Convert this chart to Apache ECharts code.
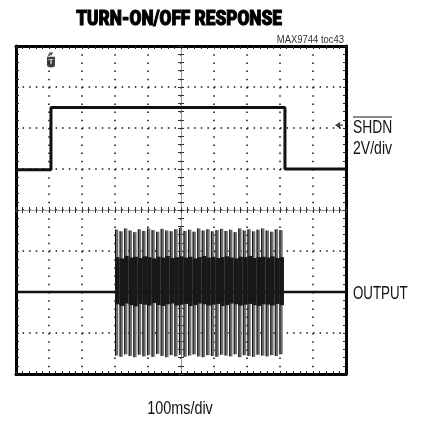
<!DOCTYPE html>
<html><head><meta charset="utf-8">
<script src="https://cdn.jsdelivr.net/npm/echarts@6/dist/echarts.min.js"></script>
<style>html,body{margin:0;padding:0;background:#fff}#c{width:421px;height:422px}</style>
</head><body><div id="c"></div>
<script>
// time in ms (100 ms/div), vertical position in screen divisions (0..8 from bottom)
const shdnTime  = [0, 106, 106, 815, 815, 1000];
const shdnLevel = [4.98, 4.98, 6.5, 6.5, 5.0, 5.0];

const outIdleTime  = [0, 1000];
const outIdleLevel = [2.0, 2.0];

const burstStart = 300, burstEnd = 812;
const burstHi = [3.52,3.48,3.55,3.50,3.46,3.53,3.49,3.55,3.51,3.47,3.54,3.50,3.48,3.53,3.56,3.49,3.52,3.47,3.55,3.50,3.53,3.48,3.51,3.54,3.49,3.52,3.46,3.55,3.50,3.53,3.48,3.52,3.55,3.50,3.47,3.53,3.51];
const burstLo = [0.45,0.42,0.48,0.44,0.41,0.47,0.43,0.46,0.42,0.49,0.44,0.41,0.46,0.43,0.47,0.42,0.45,0.48,0.43,0.41,0.46,0.44,0.42,0.47,0.45,0.43,0.48,0.41,0.46,0.44,0.42,0.47,0.45,0.43,0.46,0.44,0.48];
const innerHi = [2.85,2.82,2.88,2.84,2.86,2.83,2.87,2.85,2.82,2.86,2.84,2.88,2.83,2.85,2.87,2.84,2.86,2.82,2.85,2.88,2.84,2.86,2.83,2.85,2.87,2.84,2.82,2.86,2.85,2.88,2.83,2.85,2.86,2.84,2.87,2.83,2.85];
const innerLo = [1.70,1.66,1.72,1.68,1.65,1.71,1.69,1.67,1.73,1.68,1.66,1.70,1.72,1.67,1.69,1.71,1.66,1.68,1.72,1.70,1.67,1.69,1.71,1.66,1.68,1.72,1.70,1.67,1.69,1.71,1.68,1.66,1.70,1.69,1.67,1.71,1.68];

const triggerPoint = [106, 7.66];
const groundPoint  = [979, 6.07];

const burstStep = (burstEnd - burstStart) / burstHi.length;
const burstData = burstHi.map((h, i) => [burstStart + i * burstStep, h, burstLo[i], innerHi[i], innerLo[i]]);
const zip = (a, b) => a.map((v, i) => [v, b[i]]);

const G = {left: 16, top: 46, width: 330, height: 328};
const borderAxis = (extra) => Object.assign({
  type: 'value', axisLabel: {show: false},
  axisLine: {show: true, onZero: false, lineStyle: {color: '#000', width: 3}},
  axisTick: {show: true, inside: true, length: 3, lineStyle: {color: '#222', width: 1}},
  minorTick: {show: true, splitNumber: 5, length: 3, lineStyle: {color: '#222', width: 1}},
  splitLine: {show: false}
}, extra);
const crossAxis = (extra, line, inside) => Object.assign({
  type: 'value', axisLabel: {show: false},
  axisLine: {show: line, onZero: true, lineStyle: {color: '#999', width: 1}},
  axisTick: {show: true, inside: inside, length: 3, lineStyle: {color: '#333', width: 1}},
  minorTick: {show: true, splitNumber: 5, length: 3, lineStyle: {color: '#333', width: 1}},
  splitLine: {show: false}
}, extra);

const chart = echarts.init(document.getElementById('c'), null, {renderer: 'canvas'});
chart.setOption({
  animation: false,
  backgroundColor: '#fff',
  grid: [Object.assign({}, G), Object.assign({}, G), Object.assign({}, G)],
  xAxis: [
    borderAxis({gridIndex: 0, min: 0, max: 1000, interval: 100, position: 'bottom',
      splitLine: {show: true, lineStyle: {color: '#111', width: 1.5, type: [1.5, 6.7]}}}),
    borderAxis({gridIndex: 0, min: 0, max: 1000, interval: 100, position: 'top'}),
    crossAxis({gridIndex: 1, min: -5, max: 5, interval: 1, position: 'bottom'}, true, true),
    crossAxis({gridIndex: 2, min: -5, max: 5, interval: 1, position: 'bottom'}, false, false)
  ],
  yAxis: [
    borderAxis({gridIndex: 0, min: 0, max: 8, interval: 1, position: 'left',
      splitLine: {show: true, lineStyle: {color: '#111', width: 1.5, type: [1.5, 5.1]}}}),
    borderAxis({gridIndex: 0, min: 0, max: 8, interval: 1, position: 'right'}),
    crossAxis({gridIndex: 1, min: -4, max: 4, interval: 1, position: 'left'}, true, true),
    crossAxis({gridIndex: 2, min: -4, max: 4, interval: 1, position: 'left'}, false, false)
  ],
  series: [
    {type: 'line', xAxisIndex: 0, yAxisIndex: 0, data: zip(shdnTime, shdnLevel), symbol: 'none',
      lineStyle: {color: '#111', width: 3}, z: 5},
    {type: 'line', xAxisIndex: 0, yAxisIndex: 0, data: zip(outIdleTime, outIdleLevel), symbol: 'none',
      lineStyle: {color: '#111', width: 2.5}, z: 5},
    {type: 'custom', xAxisIndex: 0, yAxisIndex: 0, data: burstData, z: 6,
      renderItem: function (params, api) {
        const t = api.value(0);
        const pHi = api.coord([t, api.value(1)]), pLo = api.coord([t, api.value(2)]);
        const pIh = api.coord([t, api.value(3)]), pIl = api.coord([t, api.value(4)]);
        const w = api.size([burstStep, 0])[0];
        return {type: 'group', children: [
          {type: 'rect', shape: {x: pHi[0], y: pHi[1], width: w * 0.72, height: pLo[1] - pHi[1]}, style: {fill: '#6e6e6e'}},
          {type: 'line', shape: {x1: pHi[0] + 0.5, y1: pHi[1], x2: pHi[0] + 0.5, y2: pLo[1]}, style: {stroke: '#111', lineWidth: 1}},
          {type: 'rect', shape: {x: pIh[0], y: pIh[1], width: w, height: pIl[1] - pIh[1]}, style: {fill: '#181818'}}
        ]};
      }},
    {type: 'scatter', xAxisIndex: 0, yAxisIndex: 0, data: [triggerPoint], z: 8,
      symbol: 'path://M2,0 L6,0 L4,3 Z M0.5,4 L7.5,4 L7.5,12 Q7.5,14 4,14 Q0.5,14 0.5,12 Z',
      symbolSize: [8, 15], itemStyle: {color: '#111'},
      label: {show: true, formatter: 'T', color: '#fff', fontSize: 8, fontWeight: 'bold', position: 'inside', offset: [0, 2]}},
    {type: 'scatter', xAxisIndex: 0, yAxisIndex: 0, data: [groundPoint], z: 8,
      symbol: 'path://M0,3 L5,0 L5,2.4 L8,2.4 L8,3.6 L5,3.6 L5,6 Z', symbolSize: [8, 7], itemStyle: {color: '#111'}}
  ],
  graphic: [
    {type: 'text', x: 179, y: 20, scaleX: 0.82, style: {text: 'TURN-ON/OFF RESPONSE', fontFamily: 'Roboto', fontWeight: 900, fontSize: 21, fill: '#000', stroke: '#000', lineWidth: 1.1, align: 'center', verticalAlign: 'middle', textAlign: 'center', textVerticalAlign: 'middle'}},
    {type: 'text', x: 344, y: 40, scaleX: 0.9, style: {text: 'MAX9744 toc43', fontFamily: 'Liberation Sans', fontSize: 10.5, fill: '#333', align: 'right', verticalAlign: 'middle', textAlign: 'right', textVerticalAlign: 'middle'}},
    {type: 'text', x: 353, y: 128, scaleX: 0.77, style: {text: 'SHDN', fontFamily: 'Liberation Sans', fontSize: 18, fill: '#111', align: 'left', verticalAlign: 'middle', textAlign: 'left', textVerticalAlign: 'middle'}},
    {type: 'line', shape: {x1: 353, y1: 117, x2: 392, y2: 117}, style: {stroke: '#111', lineWidth: 1}},
    {type: 'text', x: 353, y: 149, scaleX: 0.78, style: {text: '2V/div', fontFamily: 'Liberation Sans', fontSize: 18, fill: '#111', align: 'left', verticalAlign: 'middle', textAlign: 'left', textVerticalAlign: 'middle'}},
    {type: 'text', x: 353, y: 294, scaleX: 0.74, style: {text: 'OUTPUT', fontFamily: 'Liberation Sans', fontSize: 18, fill: '#111', align: 'left', verticalAlign: 'middle', textAlign: 'left', textVerticalAlign: 'middle'}},
    {type: 'text', x: 180, y: 409, scaleX: 0.8, style: {text: '100ms/div', fontFamily: 'Liberation Sans', fontSize: 18, fill: '#111', align: 'center', verticalAlign: 'middle', textAlign: 'center', textVerticalAlign: 'middle'}}
  ]
});
</script></body></html>
